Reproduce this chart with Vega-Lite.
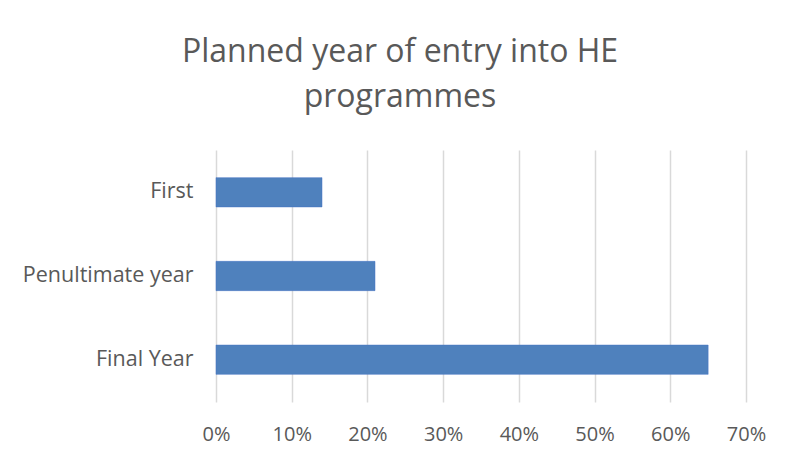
{
  "$schema": "https://vega.github.io/schema/vega-lite/v6.json",
  "autosize": {"type": "none"},
  "width": 530,
  "height": 252,
  "padding": {"left": 216, "top": 150, "right": 39, "bottom": 60},
  "background": "white",
  "title": {
    "text": ["Planned year of entry into HE", "programmes"],
    "font": "Open Sans",
    "fontSize": 32,
    "fontWeight": "normal",
    "color": "#595959",
    "lineHeight": 45,
    "anchor": "middle",
    "dx": -81,
    "offset": 36
  },
  "data": {
    "values": [
      {"year": "First", "share": 0.14},
      {"year": "Penultimate year", "share": 0.21},
      {"year": "Final Year", "share": 0.65}
    ]
  },
  "mark": {"type": "bar", "color": "#4F81BD", "stroke": "#4472C4", "strokeWidth": 0.5},
  "encoding": {
    "y": {
      "field": "year",
      "type": "nominal",
      "sort": ["First", "Penultimate year", "Final Year"],
      "scale": {"paddingInner": 0.65, "paddingOuter": 0.33},
      "axis": {
        "title": null,
        "domain": false,
        "ticks": false,
        "labelFont": "Open Sans",
        "labelFontSize": 21.5,
        "labelColor": "#595959",
        "labelPadding": 23,
        "labelLimit": 300
      }
    },
    "x": {
      "field": "share",
      "type": "quantitative",
      "scale": {"domain": [0, 0.7], "nice": false},
      "axis": {
        "title": null,
        "format": ".0%",
        "values": [0, 0.1, 0.2, 0.3, 0.4, 0.5, 0.6, 0.7],
        "domain": false,
        "ticks": false,
        "grid": true,
        "gridColor": "#D9D9D9",
        "gridWidth": 1.5,
        "labelFont": "Open Sans",
        "labelFontSize": 20,
        "labelColor": "#595959",
        "labelFlush": false,
        "labelPadding": 22
      }
    }
  },
  "config": {"view": {"stroke": null}}
}
